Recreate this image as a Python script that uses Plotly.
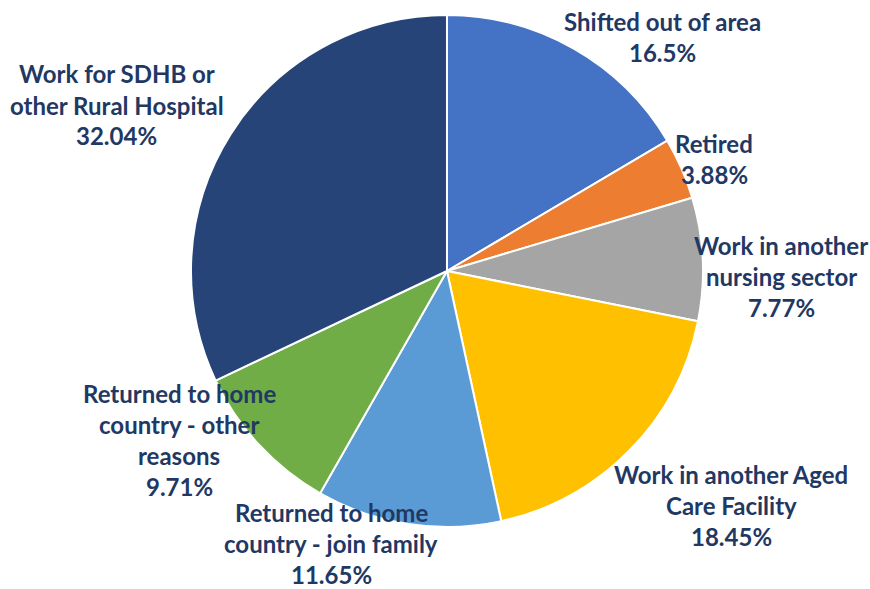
import plotly.graph_objects as go

# Reasons staff left, share of leavers (%)
categories = [
    "Shifted out of area",
    "Retired",
    "Work in another nursing sector",
    "Work in another Aged Care Facility",
    "Returned to home country - join family",
    "Returned to home country - other reasons",
    "Work for SDHB or other Rural Hospital",
]
values = [16.5, 3.88, 7.77, 18.45, 11.65, 9.71, 32.04]
value_labels = ["16.5%", "3.88%", "7.77%", "18.45%", "11.65%", "9.71%", "32.04%"]

# Wrapped label lines as drawn beside each slice
label_lines = [
    ["Shifted out of area"],
    ["Retired"],
    ["Work in another", "nursing sector"],
    ["Work in another Aged", "Care Facility"],
    ["Returned to home", "country - join family"],
    ["Returned to home", "country - other", "reasons"],
    ["Work for SDHB or", "other Rural Hospital"],
]

colors = ["#4472C4", "#ED7D31", "#A5A5A5", "#FFC000", "#5B9BD5", "#70AD47", "#264478"]

W, H = 870, 589
TEXT_COLOR = "#1F3864"
FONT = "Lato"
FONT_SIZE = 24
LINE_STEP = 31

# Centre of each label block in pixels (x, y from top)
label_centres = [
    (662, 37),
    (714, 159),
    (781, 276),
    (731, 505),
    (331, 543),
    (179, 440),
    (117, 105),
]

fig = go.Figure(
    go.Pie(
        labels=categories,
        values=values,
        sort=False,
        direction="clockwise",
        rotation=0,
        marker=dict(colors=colors, line=dict(color="white", width=2)),
        textinfo="none",
        hoverinfo="label+percent",
        showlegend=False,
        domain=dict(x=[0.2195, 0.8080], y=[0.1053, 0.9745]),
    )
)

annotations = []
for lines, pct, (cx, cy) in zip(label_lines, value_labels, label_centres):
    block = lines + [pct]
    n = len(block)
    for i, line in enumerate(block):
        y = cy + (i - (n - 1) / 2) * LINE_STEP
        annotations.append(
            dict(
                x=cx / W,
                y=1 - y / H,
                xref="paper",
                yref="paper",
                text=line,
                showarrow=False,
                xanchor="center",
                yanchor="middle",
                font=dict(family=FONT, size=FONT_SIZE, color=TEXT_COLOR, weight="bold"),
            )
        )

fig.update_layout(
    width=W,
    height=H,
    margin=dict(l=0, r=0, t=0, b=0),
    paper_bgcolor="white",
    plot_bgcolor="white",
    annotations=annotations,
)

fig.write_html("out.html")
